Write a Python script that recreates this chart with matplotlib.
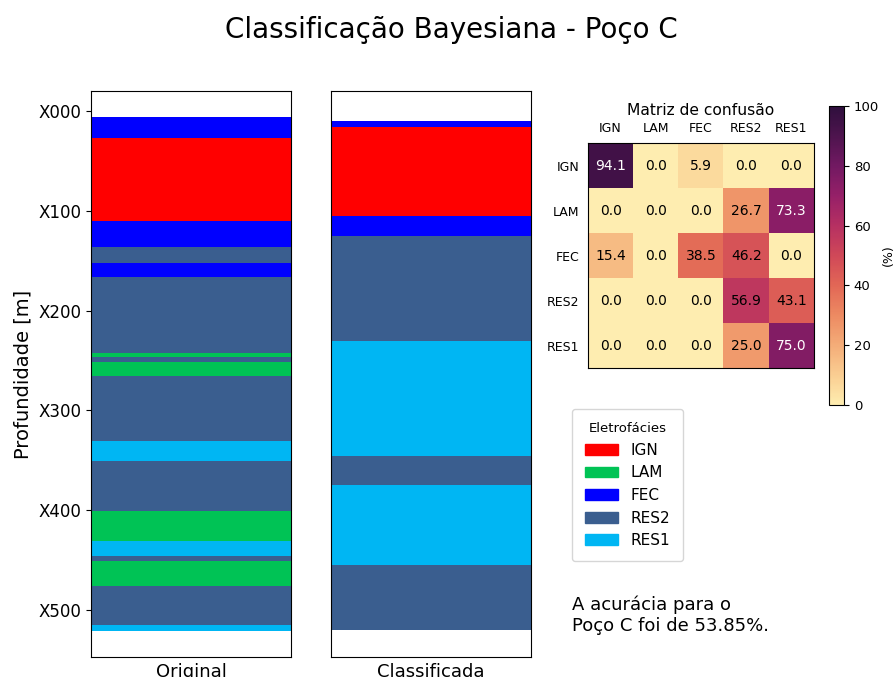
import numpy as np
import matplotlib
matplotlib.use('Agg')
import matplotlib.pyplot as plt
from matplotlib.colors import LinearSegmentedColormap
from matplotlib.patches import Patch

W, H = 895, 677

# Facies and their colours
facies = ['IGN', 'LAM', 'FEC', 'RES2', 'RES1']
facies_colors = ['#ff0000', '#00c355', '#0000ff', '#3a5e8f', '#00b6f3']

# Original log (depth in m below X000)
orig_top = [6, 27, 110, 136, 152, 166, 242, 246, 251, 266, 331, 351, 401, 431, 446, 451, 476, 515]
orig_base = [27, 110, 136, 152, 166, 242, 246, 251, 266, 331, 351, 401, 431, 446, 451, 476, 515, 521]
orig_facies = ['FEC', 'IGN', 'FEC', 'RES2', 'FEC', 'RES2', 'LAM', 'RES2', 'LAM',
               'RES2', 'RES1', 'RES2', 'LAM', 'RES1', 'RES2', 'LAM', 'RES2', 'RES1']

# Bayesian classification
class_top = [10, 16, 105, 125, 230, 346, 375, 455]
class_base = [16, 105, 125, 230, 346, 375, 455, 520]
class_facies = ['FEC', 'IGN', 'FEC', 'RES2', 'RES1', 'RES2', 'RES1', 'RES2']

depth_ticks = [0, 100, 200, 300, 400, 500]
depth_labels = ['X000', 'X100', 'X200', 'X300', 'X400', 'X500']

# Confusion matrix (%), rows = true, columns = predicted
conf = np.array([
    [94.1, 0.0, 5.9, 0.0, 0.0],
    [0.0, 0.0, 0.0, 26.7, 73.3],
    [15.4, 0.0, 38.5, 46.2, 0.0],
    [0.0, 0.0, 0.0, 56.9, 43.1],
    [0.0, 0.0, 0.0, 25.0, 75.0],
])
accuracy = 53.85

color_of = dict(zip(facies, facies_colors))

# cream -> orange -> red -> purple ramp
matter = LinearSegmentedColormap.from_list('matter', [
    '#feedb0', '#facd91', '#f4ac78', '#ed8a62', '#e26756', '#d04858',
    '#b63062', '#962068', '#721962', '#4e144e', '#2f0f3d'])


def box(x0, y0, x1, y1):
    return [x0 / W, 1 - y1 / H, (x1 - x0) / W, (y1 - y0) / H]


def draw_log(ax, tops, bases, names, label):
    for t, b, n in zip(tops, bases, names):
        ax.fill_betweenx([t, b], 0, 1, color=color_of[n], linewidth=0)
    ax.set_xlim(0, 1)
    ax.set_ylim(546.75, -19.75)
    ax.set_xticks([])
    ax.set_xlabel(label, fontsize=13)


fig = plt.figure(figsize=(W / 100, H / 100), dpi=100)
fig.suptitle('Classificação Bayesiana - Poço C', fontsize=20, x=0.504, y=0.976)

ax1 = fig.add_axes(box(91, 91, 291, 657))
draw_log(ax1, orig_top, orig_base, orig_facies, 'Original')
ax1.set_yticks(depth_ticks, depth_labels, fontsize=12)
ax1.set_ylabel('Profundidade [m]', fontsize=14)

ax2 = fig.add_axes(box(331, 91, 531, 657))
draw_log(ax2, class_top, class_base, class_facies, 'Classificada')
ax2.set_yticks([])

# Confusion matrix
axc = fig.add_axes(box(588, 143, 814, 368))
im = axc.imshow(conf, cmap=matter, vmin=0, vmax=100, aspect='auto')
axc.xaxis.tick_top()
axc.set_xticks(range(len(facies)), facies)
axc.set_yticks(range(len(facies)), facies)
axc.tick_params(length=0, labelsize=9, pad=6)
axc.set_title('Matriz de confusão', fontsize=11.2, pad=5)
for i in range(conf.shape[0]):
    for j in range(conf.shape[1]):
        v = conf[i, j]
        axc.text(j, i, f'{v:.1f}', ha='center', va='center', fontsize=10,
                 color='white' if v > 60 else 'black')

cax = fig.add_axes(box(829, 106, 844, 405))
cb = fig.colorbar(im, cax=cax)
cb.set_ticks([0, 20, 40, 60, 80, 100])
cb.ax.tick_params(labelsize=9.5)
cb.set_label('(%)', fontsize=9, labelpad=2)

handles = [Patch(color=c, label=f) for f, c in zip(facies, facies_colors)]
fig.legend(handles=handles, title='Eletrofácies', loc='upper left',
           bbox_to_anchor=(572 / W, 1 - 409 / H), borderaxespad=0,
           borderpad=0.85, fontsize=11, title_fontsize=9.5, handlelength=2.15)

fig.text(572 / W, 1 - 596 / H,
         f'A acurácia para o\nPoço C foi de {accuracy:.2f}%.',
         fontsize=13, va='top', ha='left')

fig.savefig('out.png', dpi=100)
